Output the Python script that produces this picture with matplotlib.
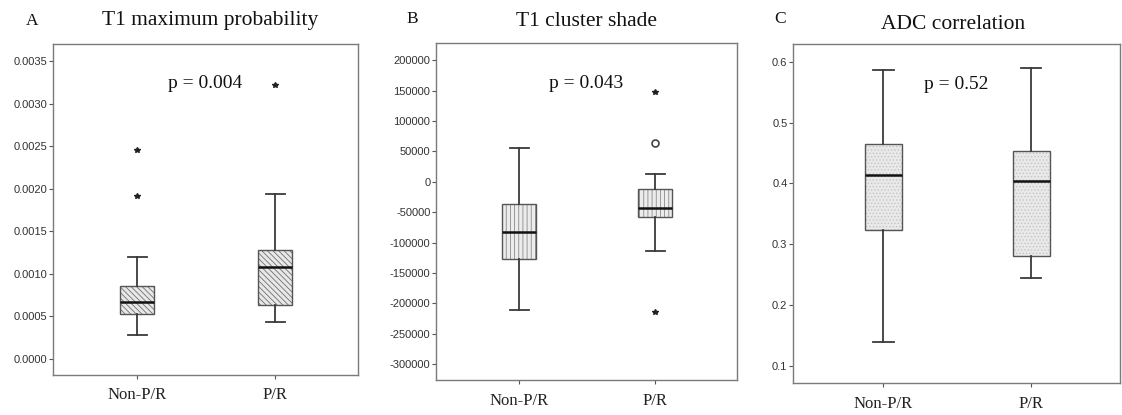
import numpy as np
import matplotlib.pyplot as plt
import matplotlib as mpl

# group names
groups = ['Non-P/R', 'P/R']

# panel A: T1 maximum probability  (whislo, q1, med, q3, whishi)
a_stats = [[0.00028, 0.00053, 0.00067, 0.00086, 0.00120],
           [0.00043, 0.00064, 0.00108, 0.00128, 0.00194]]
a_extreme = [[0.00192, 0.00246], [0.00322]]
a_outlier = [[], []]

# panel B: T1 cluster shade
b_stats = [[-210000, -127000, -82000, -37000, 55000],
           [-113000, -58000, -42500, -12000, 13500]]
b_extreme = [[], [147000, -214500]]
b_outlier = [[], [63500]]

# panel C: ADC correlation
c_stats = [[0.139, 0.324, 0.414, 0.464, 0.586],
           [0.244, 0.280, 0.404, 0.454, 0.590]]
c_extreme = [[], []]
c_outlier = [[], []]

titles = ['T1 maximum probability', 'T1 cluster shade', 'ADC correlation']
letters = ['A', 'B', 'C']
pvals = ['p = 0.004', 'p = 0.043', 'p = 0.52']

mpl.rcParams['hatch.linewidth'] = 0.6
serif = 'Liberation Serif'
sans = 'Liberation Sans'

fig = plt.figure(figsize=(11.22, 4.15), dpi=100)
rects = [[0.0472, 0.0964, 0.2719, 0.7976],
         [0.3886, 0.0843, 0.2683, 0.8117],
         [0.7068, 0.0771, 0.2912, 0.8169]]

panels = [
    (a_stats, a_extreme, a_outlier, (-0.000188, 0.0037), np.arange(0, 0.0036, 0.0005), '%.4f', '\\\\\\\\\\\\', '#e8e8e8', '#707070'),
    (b_stats, b_extreme, b_outlier, (-325800, 228000), np.arange(-300000, 200001, 50000), '%d', '||||', '#ececec', '#8a8a8a'),
    (c_stats, c_extreme, c_outlier, (0.072, 0.629), np.arange(0.1, 0.61, 0.1), '%.1f', '.....', '#e9e9e9', '#c4c4c4'),
]

for i, (stats, extreme, outl, ylim, yticks, fmt, hatch, fc, hc) in enumerate(panels):
    ax = fig.add_axes(rects[i])
    bxp = []
    for s in stats:
        bxp.append({'whislo': s[0], 'q1': s[1], 'med': s[2], 'q3': s[3], 'whishi': s[4], 'fliers': []})
    res = ax.bxp(bxp, positions=[1, 2], widths=0.25, patch_artist=True, showfliers=False,
                 boxprops=dict(linewidth=1.0, edgecolor='#555555'),
                 whiskerprops=dict(linewidth=1.3, color='#3a3a3a'),
                 capprops=dict(linewidth=1.3, color='#3a3a3a'),
                 medianprops=dict(linewidth=1.8, color='#111111'),
                 capwidths=0.14)
    for b in res['boxes']:
        b.set_facecolor(fc)
        b.set_hatch(hatch)
        b._hatch_color = mpl.colors.to_rgba(hc)
        b.set_zorder(2)
    for j in range(2):
        if extreme[j]:
            ax.plot([j + 1] * len(extreme[j]), extreme[j], linestyle='none', marker='*',
                    markersize=4, color='#222222')
        if outl[j]:
            ax.plot([j + 1] * len(outl[j]), outl[j], linestyle='none', marker='o',
                    markersize=5, markerfacecolor='white', markeredgecolor='#444444',
                    markeredgewidth=1.2)

    ax.set_xlim(0.39, 2.6)
    ax.set_ylim(*ylim)
    ax.set_yticks(yticks)
    ax.set_yticklabels([fmt % v for v in yticks], fontsize=8, family=sans, color='#333333')
    ax.set_xticks([1, 2])
    ax.set_xticklabels(groups, fontsize=12, family=serif, color='#222222')
    ax.tick_params(axis='both', direction='out', length=3, width=0.8, color='#555555')
    ax.tick_params(axis='y', pad=1)
    ax.tick_params(axis='x', pad=6)
    for sp in ax.spines.values():
        sp.set_color('#7a7a7a')
        sp.set_linewidth(1.0)

    ax.text(0.5, 0.88, pvals[i], transform=ax.transAxes, ha='center', va='center',
            fontsize=14, family=serif, color='#111111')

fig.text(0.187, 0.95, titles[0], ha='center', va='center', fontsize=15.5, family=serif, color='#111111')
fig.text(0.523, 0.948, titles[1], ha='center', va='center', fontsize=15.5, family=serif, color='#111111')
fig.text(0.849, 0.942, titles[2], ha='center', va='center', fontsize=15.5, family=serif, color='#111111')
fig.text(0.029, 0.95, letters[0], ha='center', va='center', fontsize=12.5, family=serif, color='#111111')
fig.text(0.367, 0.955, letters[1], ha='center', va='center', fontsize=12.5, family=serif, color='#111111')
fig.text(0.695, 0.955, letters[2], ha='center', va='center', fontsize=12.5, family=serif, color='#111111')

fig.savefig('out.png', dpi=100, facecolor='white')
